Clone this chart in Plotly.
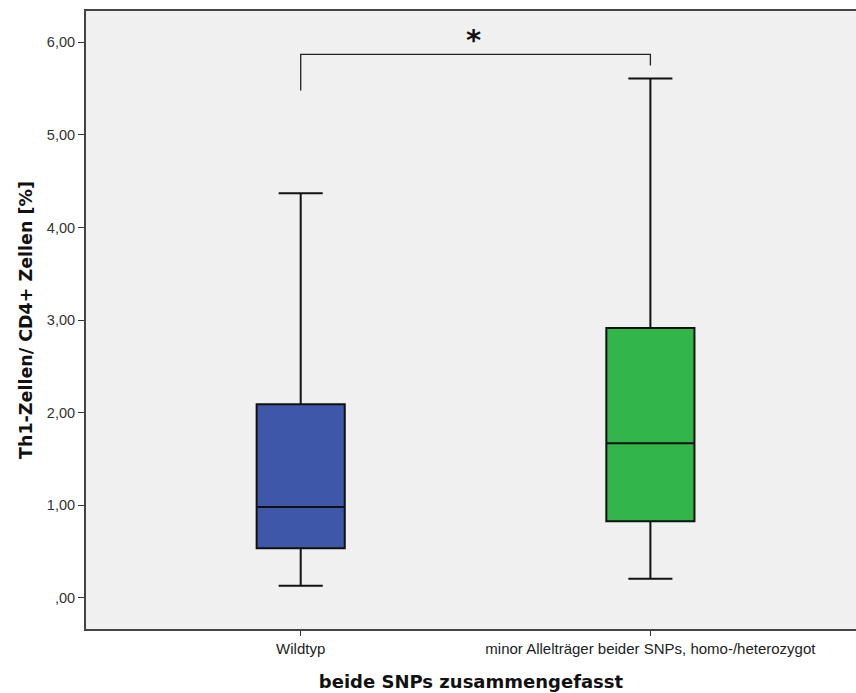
import plotly.graph_objects as go

# Group labels and box statistics (Th1 cells as % of CD4+ cells)
groups = ["Wildtyp", "minor Allelträger beider SNPs, homo-/heterozygot"]
group_pos = [0, 1]
lower_whisker = [0.13, 0.205]
q1 = [0.535, 0.825]
median = [0.98, 1.67]
q3 = [2.09, 2.915]
upper_whisker = [4.37, 5.61]
box_colors = ["#3F57A8", "#32B64A"]

y_ticks = [0, 1, 2, 3, 4, 5, 6]
y_tick_labels = [",00", "1,00", "2,00", "3,00", "4,00", "5,00", "6,00"]

# Significance bracket between the two groups
bracket_top = 5.87
bracket_left_end = 5.48
bracket_right_end = 5.75
sig_label = "*"

fig = go.Figure()

for i in range(len(groups)):
    fig.add_trace(go.Box(
        x=[group_pos[i]],
        q1=[q1[i]], median=[median[i]], q3=[q3[i]],
        lowerfence=[lower_whisker[i]], upperfence=[upper_whisker[i]],
        width=0.252,
        whiskerwidth=0.5,
        fillcolor=box_colors[i],
        line=dict(color="#111111", width=2),
        boxpoints=False,
        showlegend=False,
        hoverinfo="skip",
    ))

fig.add_trace(go.Scatter(
    x=[group_pos[0], group_pos[0], group_pos[1], group_pos[1]],
    y=[bracket_left_end, bracket_top, bracket_top, bracket_right_end],
    mode="lines",
    line=dict(color="#222222", width=1.3),
    showlegend=False,
    hoverinfo="skip",
))

fig.add_annotation(
    x=(group_pos[0] + group_pos[1]) / 2, y=bracket_top,
    text="<b>" + sig_label + "</b>",
    showarrow=False, yanchor="bottom", yshift=-5, xshift=-2,
    font=dict(family="DejaVu Sans", size=29, color="#111111"),
)

fig.update_layout(
    width=856, height=693,
    margin=dict(l=86, r=0, t=11, b=64),
    paper_bgcolor="white",
    plot_bgcolor="#F0F0F0",
    xaxis=dict(
        range=[-0.614, 1.588],
        tickmode="array", tickvals=group_pos, ticktext=groups,
        ticks="outside", ticklen=5, tickwidth=1.2, tickcolor="#333333",
        showline=True, linecolor="#444444", linewidth=2, mirror=True,
        showgrid=False, zeroline=False,
        tickfont=dict(family="Liberation Sans", size=15, color="#222222"),
        title=dict(text="<b>beide SNPs zusammengefasst</b>", standoff=19,
                   font=dict(family="DejaVu Sans", size=18, color="#111111")),
    ),
    yaxis=dict(
        range=[-0.338, 6.339],
        tickmode="array", tickvals=y_ticks, ticktext=y_tick_labels,
        ticks="outside", ticklen=6, tickwidth=1.2, tickcolor="#333333",
        showline=True, linecolor="#444444", linewidth=2,
        showgrid=False, zeroline=False,
        tickfont=dict(family="Liberation Sans", size=14.5, color="#333333"),
        title=dict(text="<b>Th1-Zellen/ CD4+ Zellen [%]</b>", standoff=10,
                   font=dict(family="DejaVu Sans", size=17.5, color="#111111")),
    ),
)

fig.write_html("out.html")
